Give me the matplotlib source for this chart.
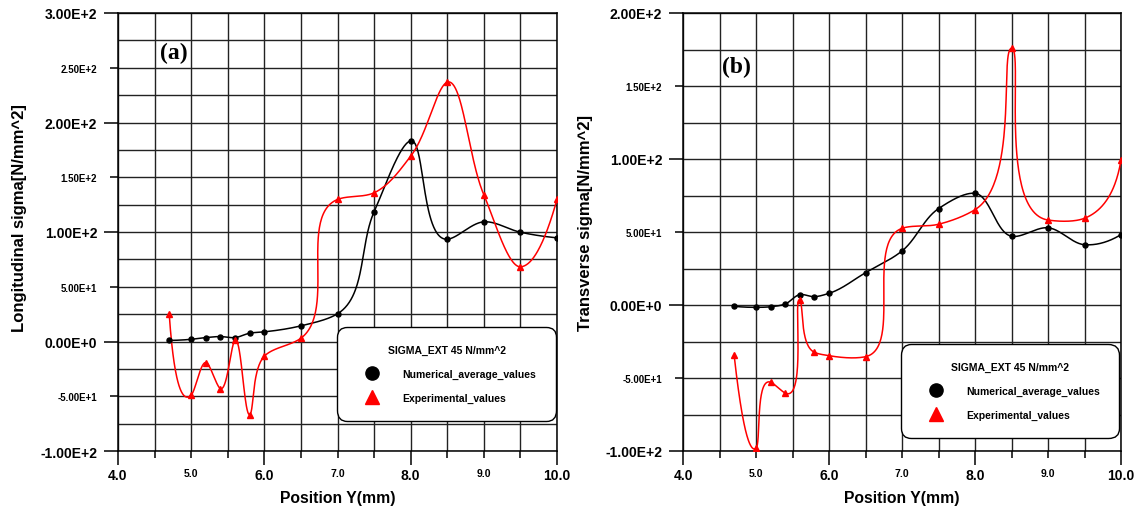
import numpy as np
import matplotlib
matplotlib.use('Agg')
import matplotlib.pyplot as plt
from matplotlib.lines import Line2D

plt.rcParams['font.family'] = ['Liberation Sans', 'DejaVu Sans']
plt.rcParams['font.weight'] = 'bold'

# data
pos_y = [4.7, 5.0, 5.2, 5.4, 5.6, 5.8, 6.0, 6.5, 7.0, 7.5, 8.0, 8.5, 9.0, 9.5, 10.0]
long_num = [1, 2, 3.6, 4.5, 3.6, 7.6, 8.8, 14.3, 25.3, 118.4, 183.3, 93.4, 109.3, 99.8, 94.7]
long_exp = [25, -49, -19.2, -43, 1.2, -66.7, -13.4, 3, 129.7, 135.8, 169.2, 236.8, 134, 68.2, 129.7]
trans_num = [-0.9, -1.6, -1.2, 0.7, 7.1, 5.7, 8.0, 22.1, 37.0, 66.0, 76.5, 47.1, 52.9, 41.3, 48.2]
trans_exp = [-34.2, -98.2, -52.9, -60.3, 3.2, -32.4, -34.7, -35.4, 52.5, 55.3, 65.3, 175.8, 58.2, 59.4, 99.3]

x_ticks = [4.0, 5.0, 6.0, 7.0, 8.0, 9.0, 10.0]
x_labels = ['4.0', '5.0', '6.0', '7.0', '8.0', '9.0', '10.0']
long_ticks = [-100, -50, 0, 50, 100, 150, 200, 250, 300]
long_labels = ['-1.00E+2', '-5.00E+1', '0.00E+0', '5.00E+1', '1.00E+2',
               '1.50E+2', '2.00E+2', '2.50E+2', '3.00E+2']
trans_ticks = [-100, -50, 0, 50, 100, 150, 200]
trans_labels = ['-1.00E+2', '-5.00E+1', '0.00E+0', '5.00E+1', '1.00E+2',
                '1.50E+2', '2.00E+2']

legend_title = 'SIGMA_EXT 45 N/mm^2'
names = ['Numerical_average_values', 'Experimental_values']


def smooth(ax, x, y, n=60):
    # chord-length parametric cubic through the points, done in display space
    p = ax.transData.transform(np.column_stack([x, y]))
    d = np.hypot(*np.diff(p, axis=0).T)
    s = np.diff(p, axis=0) / d[:, None]
    m = np.zeros_like(p)
    for i in range(1, len(p) - 1):
        m[i] = (d[i] * s[i - 1] + d[i - 1] * s[i]) / (d[i - 1] + d[i])
    m[0] = 2 * s[0] - m[1]
    m[-1] = 2 * s[-1] - m[-2]
    u = np.linspace(0, 1, n)[:, None]
    h00 = 2 * u**3 - 3 * u**2 + 1
    h10 = u**3 - 2 * u**2 + u
    h01 = -2 * u**3 + 3 * u**2
    h11 = u**3 - u**2
    segs = []
    for i in range(len(p) - 1):
        seg = h00 * p[i] + h10 * d[i] * m[i] + h01 * p[i + 1] + h11 * d[i] * m[i + 1]
        segs.append(seg if i == 0 else seg[1:])
    c = ax.transData.inverted().transform(np.vstack(segs))
    return c[:, 0], c[:, 1]


def panel(ax, num, exp, yticks, ylabels, ylabel, tag, tagpos, ylab_pos, leg_box):
    ax.set_xlim(4.0, 10.0)
    ax.set_ylim(yticks[0], yticks[-1])
    ax.set_xticks(x_ticks, x_labels)
    ax.set_xticks(np.arange(4.0, 10.01, 0.5), minor=True)
    ax.set_yticks(yticks, ylabels)
    ax.set_yticks(np.arange(yticks[0], yticks[-1] + 1, 25), minor=True)
    ax.tick_params(which='major', direction='out', length=10, width=1.1, pad=5)
    ax.tick_params(axis='x', which='major', pad=2)
    ax.tick_params(axis='x', which='minor', direction='out', length=5, width=1.1)
    ax.tick_params(axis='y', which='minor', length=0)
    ax.grid(True, which='both', color='#222222', linewidth=1.0)
    ax.set_axisbelow(True)
    for sp in ax.spines.values():
        sp.set_linewidth(1.1)

    # alternate big / small tick labels and long / short ticks
    for i, lab in enumerate(ax.get_xticklabels()):
        lab.set_fontsize(10 if i % 2 == 0 else 7.5)
        lab.set_fontweight('bold')
    for i, lab in enumerate(ax.get_yticklabels()):
        big = (yticks[i] % 100 == 0)
        lab.set_fontsize(10 if big else 7)
        lab.set_fontweight('bold')
    xt = ax.xaxis.get_major_ticks()
    for i, t in enumerate(xt):
        if i % 2 == 1:
            t.tick1line.set_markersize(5)
    yt = ax.yaxis.get_major_ticks()
    for i, t in enumerate(yt):
        if yticks[i] % 100 != 0:
            t.tick1line.set_markersize(6)

    xs, ys = smooth(ax, pos_y, num)
    ax.plot(xs, ys, color='black', linewidth=1.1, zorder=3)
    ax.plot(pos_y, num, 'o', color='black', markersize=3.6, zorder=4)
    xs, ys = smooth(ax, pos_y, exp)
    ax.plot(xs, ys, color='red', linewidth=1.1, zorder=3)
    ax.plot(pos_y, exp, '^', color='red', markersize=5, zorder=4)

    ax.set_xlabel('Position Y(mm)', fontsize=11.3, fontweight='bold')
    ax.xaxis.set_label_coords(0.5, -0.09)
    ax.set_ylabel(ylabel, fontsize=12, fontweight='bold')
    ax.yaxis.set_label_coords(*ylab_pos)

    ax.text(tagpos[0], tagpos[1], tag, transform=ax.transAxes, ha='center', va='center',
            fontsize=17, fontweight='bold', family='Liberation Serif', zorder=5)

    handles = [Line2D([], [], marker='o', color='black', linestyle='none', markersize=9.5),
               Line2D([], [], marker='^', color='red', linestyle='none', markersize=10)]
    leg = ax.legend(handles, names, title=legend_title, loc='upper left',
                    bbox_to_anchor=leg_box, mode='expand', borderaxespad=0,
                    prop={'size': 7.5, 'weight': 'bold'},
                    title_fontproperties={'size': 7.5, 'weight': 'bold'},
                    borderpad=1.75, handlelength=3.2, handletextpad=1.35,
                    labelspacing=1.3, fancybox=True, framealpha=1,
                    edgecolor='black')
    leg.get_frame().set_linewidth(1.0)
    leg.get_frame().set_boxstyle('round,pad=0,rounding_size=1.0')
    leg.set_zorder(10)


fig = plt.figure(figsize=(11.41, 5.10), dpi=100)
ax1 = fig.add_axes([118 / 1141, 58 / 510, 439 / 1141, 438 / 510])
ax2 = fig.add_axes([683 / 1141, 58 / 510, 438 / 1141, 438 / 510])

panel(ax1, long_num, long_exp, long_ticks, long_labels, 'Longitudinal sigma[N/mm^2]',
      '(a)', (0.127, 0.909), (-0.207, 0.534), (0.499, 0.073, 0.499, 0.21))
panel(ax2, trans_num, trans_exp, trans_ticks, trans_labels, 'Transverse sigma[N/mm^2]',
      '(b)', (0.123, 0.877), (-0.206, 0.523), (0.497, 0.0365, 0.498, 0.2075))

fig.savefig('out.png', dpi=100, facecolor='white')
